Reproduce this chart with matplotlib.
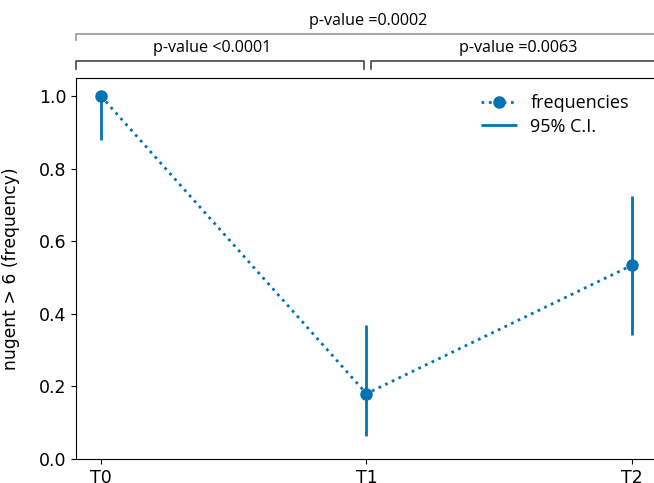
import matplotlib
matplotlib.use("Agg")
import matplotlib.pyplot as plt
import numpy as np

times = ["T0", "T1", "T2"]
freq = [1.0, 0.180, 0.534]
ci_low = [0.878, 0.064, 0.342]
ci_high = [1.0, 0.369, 0.726]
pvals = ["p-value <0.0001", "p-value =0.0063", "p-value =0.0002"]

blue = "#0173b2"
x = np.arange(len(times))

fig = plt.figure(figsize=(6.54, 4.83), dpi=100)
# right spine falls just outside the picture, like the cropped original
ax = fig.add_axes([76/654, 24/483, 594/654, 381/483])

ax.plot(x, freq, ":", color=blue, lw=2, marker="o", ms=8, label="frequencies")
ax.vlines(x, ci_low, ci_high, color=blue, lw=2, label="95% C.I.")

ax.set_xlim(-0.094, 2.143)
ax.set_ylim(0, 1.05)
ax.set_xticks(x)
ax.set_xticklabels(times)
ax.set_yticks(np.arange(0, 1.01, 0.2))
ax.tick_params(labelsize=12.5)
ax.set_ylabel("nugent > 6 (frequency)", fontsize=12.3)
ax.yaxis.set_label_coords(-0.095, 0.5)

leg = ax.legend(loc="upper right", frameon=False, prop={"family": "Open Sans", "size": 13},
                handlelength=1.95, handletextpad=0.75, labelspacing=0.3,
                bbox_to_anchor=((645 - 76) / 594, 1.0))

def fx(px):
    return px / 654
def fy(py):
    return 1 - py / 483

def bracket(x0, x1, y, drop, color, lw):
    fig.add_artist(plt.Line2D([fx(x0), fx(x0), fx(x1), fx(x1)],
                              [fy(y + drop), fy(y), fy(y), fy(y + drop)],
                              color=color, lw=lw))

bracket(76, 700, 34, 6, "#9a9a9a", 1.2)
bracket(76, 364, 61, 8, "#444444", 1.2)
bracket(371, 700, 61, 8, "#444444", 1.2)

fig.text(fx(212), fy(48), pvals[0], ha="center", va="center", family="Open Sans", fontsize=11.6)
fig.text(fx(518), fy(48), pvals[1], ha="center", va="center", family="Open Sans", fontsize=11.6)
fig.text(fx(368), fy(21), pvals[2], ha="center", va="center", family="Open Sans", fontsize=11.6)

fig.savefig("out.png", dpi=100)
